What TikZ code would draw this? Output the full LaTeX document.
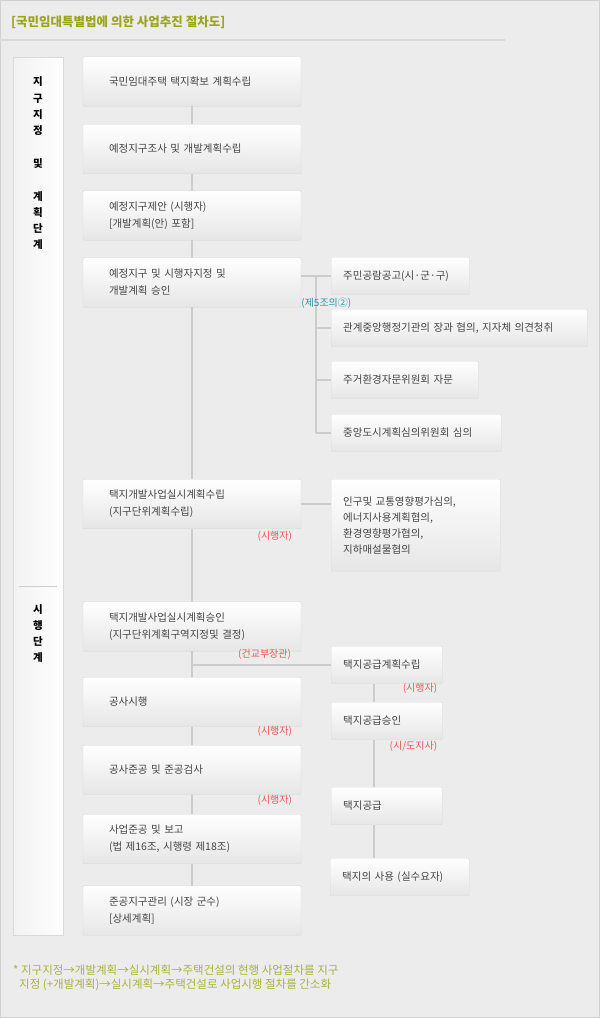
\documentclass[tikz,border=0pt]{standalone}
\usepackage{fontspec}
\setmainfont{Noto Sans CJK KR}
\usepackage{tikz}
\usetikzlibrary{arrows}
\definecolor{fundopagina}{RGB}{236,236,236}
\definecolor{bordapagina}{RGB}{208,208,208}
\definecolor{bordacaixa}{RGB}{218,218,218}
\definecolor{baixocaixa}{RGB}{230,230,230}
\definecolor{textocaixa}{RGB}{68,68,68}
\definecolor{linhacinza}{RGB}{204,204,204}
\definecolor{vermelho}{RGB}{236,86,86}
\definecolor{jade}{RGB}{40,150,170}
\definecolor{oliva}{RGB}{155,166,23}
\definecolor{olivaclaro}{RGB}{168,179,58}

\tikzset{
  caixa/.style={draw=bordacaixa, top color=white, bottom color=baixocaixa,
    rounded corners=1pt, minimum width=218pt, minimum height=49.5pt,
    inner xsep=0pt, text width=166pt, align=left, text=textocaixa,
    font=\fontsize{10.5}{17}\selectfont},
  lado/.style={draw=bordacaixa, top color=white, bottom color=baixocaixa,
    rounded corners=1pt, anchor=north west, minimum height=37.5pt,
    inner xsep=12pt, text width=#1, align=left, text=textocaixa,
    font=\fontsize{10.5}{16}\selectfont},
  linha/.style={draw=linhacinza, line width=1.3pt},
  rotulo/.style={text=vermelho, inner sep=0pt, font=\fontsize{10}{11}\selectfont},
  fase/.style={align=center, inner sep=0pt, font=\fontsize{10.5}{16.3}\selectfont\bfseries}
}

\begin{document}
\begin{tikzpicture}[x=1pt, y=-1pt]
  \useasboundingbox (0,0) rectangle (600,1018);
  \fill[fundopagina] (0,0) rectangle (600,1018);
  \draw[bordapagina] (0.5,0.5) rectangle (599.5,1017.5);

  % title
  \node[anchor=west, inner sep=0pt, text=oliva, font=\fontsize{12.5}{14}\selectfont\bfseries] (titulo) at (11,22) {[국민임대특별법에 의한 사업추진 절차도]};
  \draw[bordacaixa, line width=2pt] (0,40) -- (505,40);

  % left column
  \node[anchor=north west, draw=bordacaixa, left color=fundopagina!70!white, right color=white,
    minimum width=50pt, minimum height=878pt, inner sep=0pt] (coluna) at (13,57) {};
  \draw[linhacinza, line width=0.8pt] (19,586) -- (57,586);
  \node[fase] (fase1) at (38,163.5) {지\\구\\지\\정\\[16.3pt]및\\[16.3pt]계\\획\\단\\계};
  \node[fase] (fase2) at (38,633.5) {시\\행\\단\\계};

  % main steps
  \node[caixa] (b1) at (192,81.5) {국민임대주택 택지확보 계획수립};
  \node[caixa] (b2) at (192,149) {예정지구조사 및 개발계획수립};
  \node[caixa] (b3) at (192,215.5) {예정지구제안 (시행자)\\ {[}개발계획(안) 포함{]}};
  \node[caixa] (b4) at (192,282.5) {예정지구 및 시행자지정 및\\ 개발계획 승인};
  \node[caixa] (b5) at (192,504) {택지개발사업실시계획수립\\ (지구단위계획수립)};
  \node[caixa] (b6) at (192,626.5) {택지개발사업실시계획승인\\ (지구단위계획구역지정및 결정)};
  \node[caixa] (b7) at (192,702) {공사시행};
  \node[caixa] (b8) at (192,770) {공사준공 및 준공검사};
  \node[caixa] (b9) at (192,839) {사업준공 및 보고\\ (법 제16조, 시행령 제18조)};
  \node[caixa] (b10) at (192,910.5) {준공지구관리 (시장 군수)\\ {[}상세계획{]}};

  % side steps
  \node[lado=114pt] (p1) at (331,257) {주민공람공고(시·군·구)};
  \node[lado=232pt] (p2) at (331,309) {관계중앙행정기관의 장과 협의, 지자체 의견청취};
  \node[lado=123pt] (p3) at (331,361) {주거환경자문위원회 자문};
  \node[lado=146pt] (p4) at (331,414) {중앙도시계획심의위원회 심의};
  \node[lado=145pt, minimum height=92pt] (r1) at (331,479) {인구및 교통영향평가심의,\\ 에너지사용계획협의,\\ 환경영향평가협의,\\ 지하매설물협의};
  \node[lado=87pt] (s1) at (331,646) {택지공급계획수립};
  \node[lado=87pt] (s2) at (331,702) {택지공급승인};
  \node[lado=87pt] (s3) at (331,787) {택지공급};
  \node[lado=115pt] (s4) at (330,858) {택지의 사용 (실수요자)};

  % connectors
  \foreach \a/\b in {b1/b2,b2/b3,b3/b4,b4/b5,b5/b6,b6/b7,b7/b8,b8/b9,b9/b10}
    \draw[linha] (\a) -- (\b);
  \coordinate (ramo) at (316,0);
  \draw[linha] (b4.east |- p1.west) -- (p1.west);
  \draw[linha] (ramo |- p1.west) -- (ramo |- p4.west);
  \foreach \n in {p2,p3,p4}
    \draw[linha] (ramo |- \n.west) -- (\n.west);
  \draw[linha] (b5.east) -- (b5.east -| r1.west);
  \draw[linha] (s1.west -| b6.south) -- (s1.west);
  \coordinate (eixo) at (374,0);
  \foreach \a/\b in {s1/s2,s2/s3,s3/s4}
    \draw[linha] (eixo |- \a.south) -- (eixo |- \b.north);

  % labels
  \node[rotulo, anchor=west, text=jade] (l4) at ([shift={(0,-4)}]b4.south east) {(제5조의②)};
  \node[rotulo, anchor=east] (l5) at ([shift={(-9,7)}]b5.south east) {(시행자)};
  \node[rotulo, anchor=east] (l6) at ([shift={(-10,3)}]b6.south east) {(건교부장관)};
  \node[rotulo, anchor=east] (l7) at ([shift={(-9,4)}]b7.south east) {(시행자)};
  \node[rotulo, anchor=east] (l8) at ([shift={(-9,5)}]b8.south east) {(시행자)};
  \node[rotulo, anchor=east] (ls1) at ([shift={(-5,4)}]s1.south east) {(시행자)};
  \node[rotulo, anchor=east] (ls2) at ([shift={(-5,6)}]s2.south east) {(시/도지사)};

  % note
  \node[anchor=west, align=left, inner sep=0pt, text=olivaclaro, font=\fontsize{11.5}{14}\selectfont] (nota) at (13,978) {* 지구지정→개발계획→실시계획→주택건설의 현행 사업절차를 지구\\ \hspace*{6pt}지정 (+개발계획)→실시계획→주택건설로 사업시행 절차를 간소화};
\end{tikzpicture}
\end{document}
